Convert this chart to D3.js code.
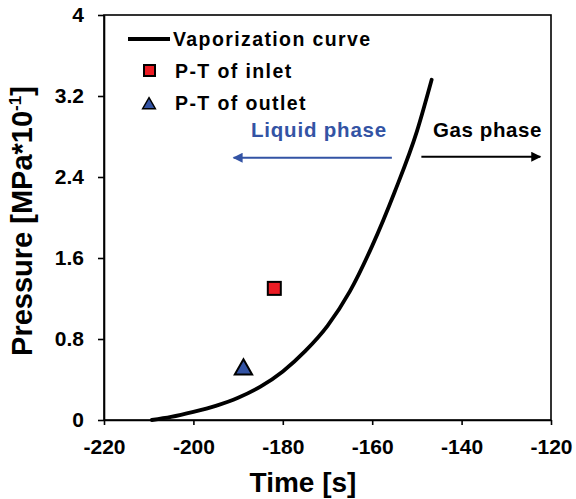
<!DOCTYPE html>
<html>
<head>
<meta charset="utf-8">
<script src="https://cdn.jsdelivr.net/npm/d3@7"></script>
<style>
  html, body { margin: 0; padding: 0; background: #fff; }
  svg { display: block; font-family: Arial, "Liberation Sans", sans-serif; font-weight: bold; }
</style>
</head>
<body>
<svg id="chart" width="576" height="499"></svg>
<script>
// ---- data ----
const curveTime     = [-209.3, -205.0, -200.0, -195.0, -190.0, -185.0, -180.0, -175.0, -170.0, -165.0, -160.0, -155.0, -150.0, -146.7];
const curvePressure = [0.00, 0.03, 0.08, 0.14, 0.22, 0.33, 0.48, 0.68, 0.93, 1.27, 1.72, 2.25, 2.85, 3.36];
const inletPoint  = { time: -181.9, pressure: 1.30 };
const outletPoint = { time: -188.8, pressure: 0.50 };
const xTicks = [-220, -200, -180, -160, -140, -120];
const yTicks = [0, 0.8, 1.6, 2.4, 3.2, 4];
const legendLabels = ["Vaporization curve", "P-T of inlet", "P-T of outlet"];
const phaseLabels = ["Liquid phase", "Gas phase"];
// phase arrows: [fromTime, toTime, pressure]
const liquidArrow = [-155.6, -191.0, 2.59];
const gasArrow    = [-149.0, -122.4, 2.60];

// ---- layout ----
const svg = d3.select("#chart");
const x = d3.scaleLinear().domain([-220, -120]).range([104, 551]);
const y = d3.scaleLinear().domain([0, 4]).range([420, 15]);

const RED = "#ec1c24", BLUE = "#3353a4";

// arrow markers
const defs = svg.append("defs");
function marker(id, color) {
  defs.append("marker").attr("id", id).attr("viewBox", "0 0 10 10")
    .attr("refX", 9).attr("refY", 5).attr("markerWidth", 5.5).attr("markerHeight", 5)
    .attr("markerUnits", "strokeWidth").attr("orient", "auto")
    .append("path").attr("d", "M0,0 L10,5 L0,10 z").attr("fill", color);
}
marker("arrBlue", BLUE);
marker("arrBlack", "#000");

// frame
svg.append("rect").attr("x", x(-220)).attr("y", y(4))
  .attr("width", x(-120) - x(-220)).attr("height", y(0) - y(4))
  .attr("fill", "none").attr("stroke", "#000").attr("stroke-width", 1.6);

// axes
const fmt = d => String(d);
const yAxis = svg.append("g").attr("transform", `translate(${x(-220)},0)`)
  .call(d3.axisLeft(y).tickValues(yTicks).tickFormat(fmt).tickSize(6).tickSizeOuter(0).tickPadding(14));
const xAxis = svg.append("g").attr("transform", `translate(0,${y(0)})`)
  .call(d3.axisBottom(x).tickValues(xTicks).tickFormat(fmt).tickSize(5).tickSizeOuter(0).tickPadding(14));
[yAxis, xAxis].forEach(g => {
  g.select(".domain").attr("stroke", "#000").attr("stroke-width", 1.6);
  g.selectAll(".tick line").attr("stroke", "#000").attr("stroke-width", 1.6);
  g.selectAll(".tick text").attr("fill", "#000").style("font-size", "21px")
    .style("font-family", "Arial, 'Liberation Sans', sans-serif").style("font-weight", "bold");
});
xAxis.selectAll(".tick text").attr("dy", "0.71em").attr("y", 19);

// axis titles
svg.append("text").attr("x", 303).attr("y", 492).attr("text-anchor", "middle")
  .style("font-size", "28px").text("Time [s]");
const yt = svg.append("text").attr("transform", "translate(32,221) rotate(-90)")
  .attr("text-anchor", "middle").style("font-size", "29px");
yt.append("tspan").text("Pressure [MPa*10");
yt.append("tspan").attr("dy", -11).style("font-size", "17px").text("-1");
yt.append("tspan").attr("dy", 11).text("]");

// curve
const line = d3.line().x(d => x(d[0])).y(d => y(d[1])).curve(d3.curveMonotoneX);
svg.append("path").datum(d3.zip(curveTime, curvePressure))
  .attr("d", line).attr("fill", "none").attr("stroke", "#000").attr("stroke-width", 3.8)
  .attr("stroke-linecap", "round");

// markers
svg.append("rect").attr("x", x(inletPoint.time) - 6.5).attr("y", y(inletPoint.pressure) - 6.5)
  .attr("width", 13).attr("height", 13).attr("fill", RED).attr("stroke", "#000").attr("stroke-width", 2);
const tri = d3.symbol().type(d3.symbolTriangle).size(130);
svg.append("path").attr("d", tri())
  .attr("transform", `translate(${x(outletPoint.time)},${y(outletPoint.pressure)})`)
  .attr("fill", BLUE).attr("stroke", "#000").attr("stroke-width", 2);

// phase annotations
svg.append("line").attr("x1", x(liquidArrow[0])).attr("x2", x(liquidArrow[1]))
  .attr("y1", y(liquidArrow[2])).attr("y2", y(liquidArrow[2]))
  .attr("stroke", BLUE).attr("stroke-width", 2).attr("marker-end", "url(#arrBlue)");
svg.append("line").attr("x1", x(gasArrow[0])).attr("x2", x(gasArrow[1]))
  .attr("y1", y(gasArrow[2])).attr("y2", y(gasArrow[2]))
  .attr("stroke", "#000").attr("stroke-width", 2).attr("marker-end", "url(#arrBlack)");
svg.append("text").attr("x", 387).attr("y", 137).attr("text-anchor", "end")
  .attr("fill", BLUE).style("font-size", "20.5px").style("letter-spacing", "0.8px").text(phaseLabels[0]);
svg.append("text").attr("x", 433).attr("y", 137).attr("text-anchor", "start")
  .attr("fill", "#000").style("font-size", "20.5px").style("letter-spacing", "0.6px").text(phaseLabels[1]);

// legend
const lg = svg.append("g");
lg.append("line").attr("x1", 128).attr("x2", 170).attr("y1", 39).attr("y2", 39)
  .attr("stroke", "#000").attr("stroke-width", 4);
lg.append("rect").attr("x", 144).attr("y", 65).attr("width", 11).attr("height", 11)
  .attr("fill", RED).attr("stroke", "#000").attr("stroke-width", 2);
lg.append("path").attr("d", d3.symbol().type(d3.symbolTriangle).size(70)())
  .attr("transform", "translate(149,105)").attr("fill", BLUE).attr("stroke", "#000").attr("stroke-width", 1.5);
const lx = [173, 175, 175], ly = [46, 78, 110];
legendLabels.forEach((t, i) => {
  lg.append("text").attr("x", lx[i]).attr("y", ly[i]).style("font-size", "19.5px")
    .style("letter-spacing", "1.4px").attr("fill", "#000").text(t);
});
</script>
</body>
</html>
